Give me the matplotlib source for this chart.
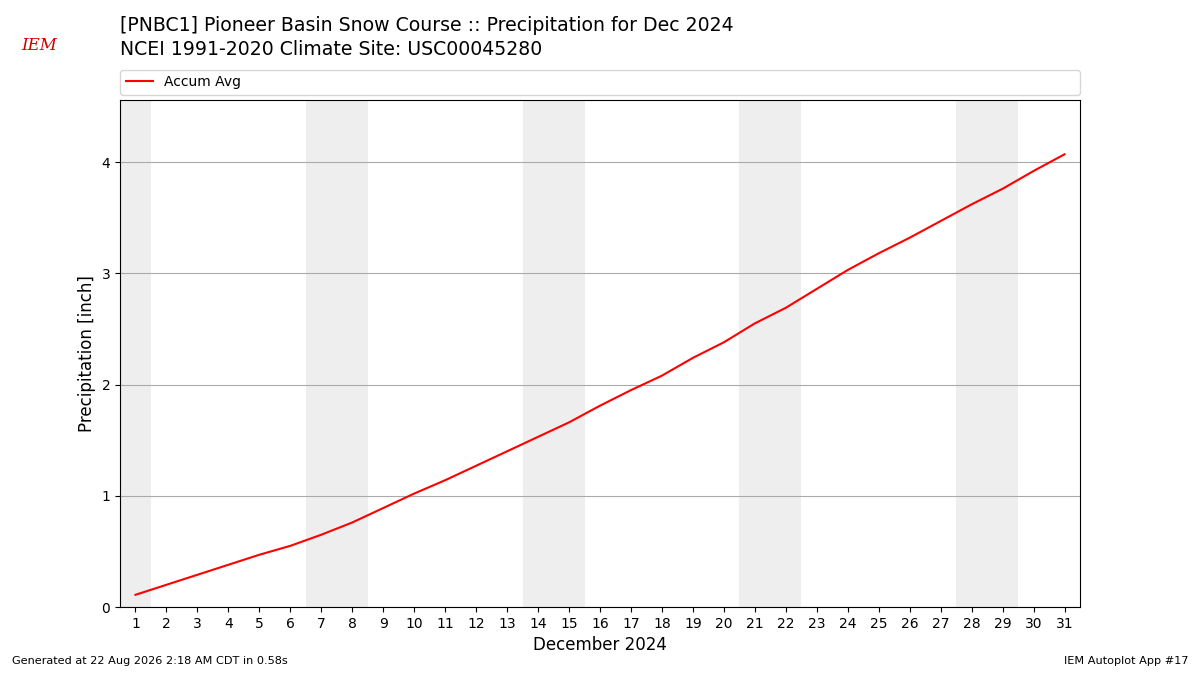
import matplotlib
matplotlib.use("Agg")
import matplotlib.pyplot as plt

days = list(range(1, 32))
accum_avg = [0.11, 0.20, 0.29, 0.38, 0.47, 0.55, 0.65, 0.76, 0.89, 1.02,
             1.14, 1.27, 1.40, 1.53, 1.66, 1.81, 1.95, 2.08, 2.24, 2.38,
             2.55, 2.69, 2.86, 3.03, 3.18, 3.32, 3.47, 3.62, 3.76, 3.92, 4.07]
weekend_spans = [(0.5, 1.5), (6.5, 8.5), (13.5, 15.5), (20.5, 22.5), (27.5, 29.5)]

fig = plt.figure(figsize=(12, 6.75), dpi=100)
ax = fig.add_axes([0.1, 0.1007, 0.8, 0.7512])

for a, b in weekend_spans:
    ax.axvspan(a, b, color="#eeeeee", zorder=0, lw=0)

ax.plot(days, accum_avg, color="red", lw=1.5, label="Accum Avg", zorder=3)
ax.set_xlim(0.5, 31.5)
ax.set_ylim(0, max(accum_avg) * 1.12)
ax.set_xticks(days)
ax.set_xticklabels([str(d) for d in days])
ax.set_yticks([0, 1, 2, 3, 4])
ax.grid(axis="y", color="#aaaaaa", lw=0.8)
ax.set_axisbelow(True)
ax.set_xlabel("December 2024", fontsize=12)
ax.set_ylabel("Precipitation [inch]", fontsize=12)

ax.legend(loc="lower left", bbox_to_anchor=(0, 1.01, 1, 0.05), mode="expand",
          ncol=1, fontsize=10, borderaxespad=0, frameon=True)

fig.text(0.1, 0.962, "[PNBC1] Pioneer Basin Snow Course :: Precipitation for Dec 2024",
         fontsize=13.6, ha="left", va="center")
fig.text(0.1, 0.927, "NCEI 1991-2020 Climate Site: USC00045280",
         fontsize=13.6, ha="left", va="center")

fig.text(0.018, 0.933, "IEM", fontsize=12, color="#cc0000", family="serif",
         style="italic", ha="left", va="center")

fig.text(0.01, 0.013, "Generated at 22 Aug 2026 2:18 AM CDT in 0.58s", fontsize=8.1,
         ha="left", va="bottom")
fig.text(0.99, 0.013, "IEM Autoplot App #17", fontsize=8.1, ha="right", va="bottom")

fig.savefig("out.png", dpi=100)
